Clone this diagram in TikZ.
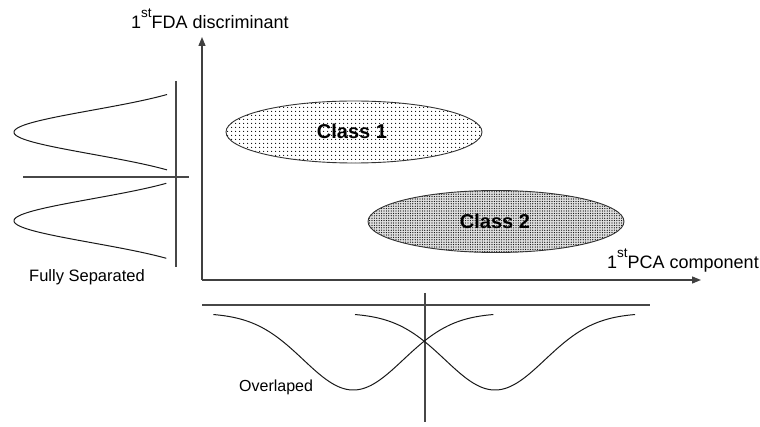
\documentclass[tikz,border=0pt]{standalone}
\usepackage{fontspec}
\setmainfont{Liberation Sans}
\usetikzlibrary{arrows.meta,patterns.meta,shapes.geometric}
\begin{document}
\begin{tikzpicture}[x=1pt,y=-1pt,
  axis/.style={draw=black!75, line width=1.3pt, -{Triangle[length=9pt,width=7pt]}},
  refline/.style={draw=black!72, line width=1.2pt},
  curve/.style={draw=black!90, line width=1pt},
  axlabel/.style={font=\fontsize{18}{20}\selectfont, inner sep=0pt, anchor=base west},
  sublabel/.style={font=\fontsize{16.5}{18}\selectfont, inner sep=0pt, anchor=base west},
  classbox/.style={ellipse, draw=black!80, line width=0.9pt, inner sep=0pt,
    minimum width=256pt, minimum height=62pt},
  classtext/.style={font=\fontsize{20}{22}\selectfont\bfseries, inner sep=0pt, anchor=base}]
\useasboundingbox (0,0) rectangle (760,427);

% axes
\coordinate (O) at (202,280);
\coordinate (ytip) at (202,37);
\coordinate (xtip) at (701,280);
\draw[axis] (O) -- (ytip);
\draw[axis] (O) -- (xtip);

\node[axlabel] (ylab) at (131,28.3) {1\raisebox{11pt}{\fontsize{13.5}{13.5}\selectfont st}FDA discriminant};
\node[axlabel] (xlab) at (607,268.3) {1\raisebox{11pt}{\fontsize{13.5}{13.5}\selectfont st}PCA component};

% classes
\node[classbox, preaction={fill=white}, pattern={Dots[distance=4pt,radius=0.65pt]}] (c1) at (354,132) {};
\node[classtext] (c1t) at (352,138.3) {Class 1};
\node[classbox, preaction={fill=black!12}, pattern={Dots[distance=2.4pt,radius=0.62pt]}] (c2) at (496,221.5) {};
\node[classtext] (c2t) at (495,228.3) {Class 2};

% left: fully separated
\coordinate (lvT) at (176,81);
\coordinate (lvB) at (176,267);
\coordinate (lhL) at (23,177);
\coordinate (lhR) at (189,177);
\draw[refline] (lvT) -- (lvB);
\draw[refline] (lhL) -- (lhR);
\draw[curve] plot[domain=-37.7:37.7, samples=80, variable=\t, smooth]
  ({212.8-198.8*exp(-(\t/10)*(\t/10)/9.68)}, {132.2+\t});
\draw[curve] plot[domain=-37.5:37.5, samples=80, variable=\t, smooth]
  ({212.8-198.8*exp(-(\t/10)*(\t/10)/9.68)}, {220.8+\t});
\node[sublabel] (fs) at (29,282) {Fully Separated};

% bottom: overlapped
\coordinate (bhL) at (202,305);
\coordinate (bhR) at (650,305);
\coordinate (bvT) at (425,293);
\coordinate (bvB) at (425,422);
\draw[refline] (bhL) -- (bhR);
\draw[refline] (bvT) -- (bvB);
\draw[curve] plot[domain=-140:140, samples=100, variable=\t, smooth]
  ({353.3+\t}, {313+77*exp(-(\t/10)*(\t/10)/50)});
\draw[curve] plot[domain=-140:140, samples=100, variable=\t, smooth]
  ({495+\t}, {313+77*exp(-(\t/10)*(\t/10)/50)});
\node[sublabel, font=\fontsize{16}{18}\selectfont] (ov) at (239,391) {Overlaped};
\end{tikzpicture}
\end{document}
